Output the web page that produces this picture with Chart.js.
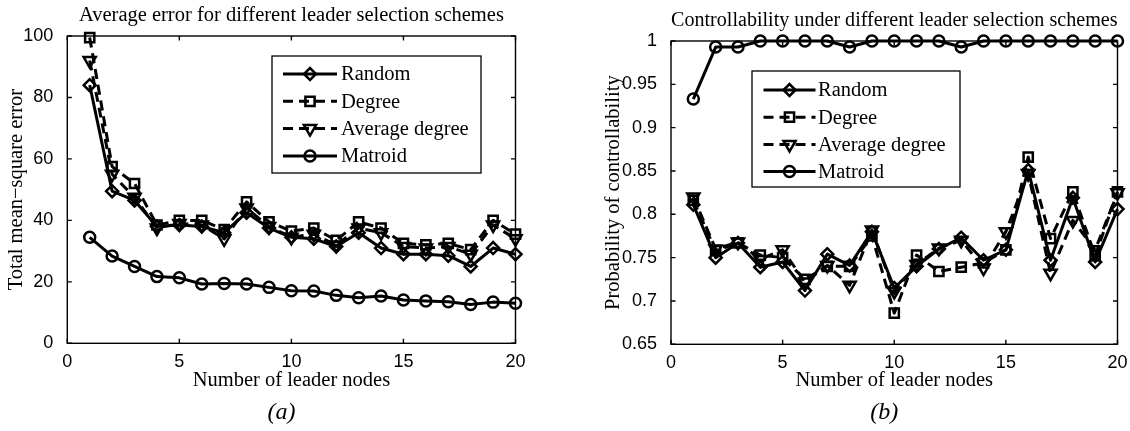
<!DOCTYPE html>
<html>
<head>
<meta charset="utf-8">
<script src="https://cdn.jsdelivr.net/npm/chart.js@4.4.1/dist/chart.umd.min.js"></script>
<style>
    body { margin: 0; background: #fff; }
    #wrap { position: relative; width: 1130px; height: 431px; }
    canvas { position: absolute; top: 0; }
</style>
</head>
<body>
<div id="wrap">
    <canvas id="errChart" width="565" height="431" style="left:0"></canvas>
    <canvas id="ctrlChart" width="565" height="431" style="left:565px"></canvas>
</div>
<script>
const leaders = [1, 2, 3, 4, 5, 6, 7, 8, 9, 10, 11, 12, 13, 14, 15, 16, 17, 18, 19, 20];
const seriesNames = ['Random', 'Degree', 'Average degree', 'Matroid'];

// (a) total mean-square error
const errRandom = [84, 49.5, 46.5, 38, 38.5, 38, 36, 42.5, 37.5, 34.5, 34, 31.5, 36, 31, 29, 29, 28.5, 25, 31, 29];
const errDegree = [99.5, 57.5, 52, 38.5, 40, 40, 37, 46, 39.5, 36.5, 37.5, 33.5, 39.5, 37.5, 32.5, 32, 32.5, 30.5, 40, 35.5];
const errAvgDegree = [92, 55, 47.5, 37.5, 39, 38.5, 34, 44, 38, 34.5, 35.5, 32, 37.5, 36, 31.5, 31, 31.5, 29, 38.5, 34];
const errMatroid = [34.5, 28.4, 25, 21.7, 21.3, 19.3, 19.5, 19.3, 18.2, 17.1, 17, 15.6, 14.8, 15.4, 14.1, 13.8, 13.5, 12.6, 13.4, 13];

// (b) probability of controllability
const ctrlRandom = [0.811, 0.750, 0.767, 0.739, 0.745, 0.712, 0.754, 0.741, 0.780, 0.715, 0.740, 0.760, 0.773, 0.747, 0.759, 0.851, 0.747, 0.819, 0.745, 0.806];
const ctrlDegree = [0.816, 0.758, 0.767, 0.753, 0.750, 0.725, 0.740, 0.740, 0.775, 0.686, 0.753, 0.734, 0.739, 0.744, 0.759, 0.866, 0.772, 0.826, 0.752, 0.826];
const ctrlAvgDegree = [0.820, 0.760, 0.768, 0.748, 0.759, 0.722, 0.741, 0.718, 0.782, 0.711, 0.742, 0.761, 0.770, 0.738, 0.780, 0.847, 0.732, 0.793, 0.759, 0.825];
const ctrlMatroid = [0.933, 0.993, 0.993, 1, 1, 1, 1, 0.993, 1, 1, 1, 1, 0.993, 1, 1, 1, 1, 1, 1, 1];

const xTicks = [0, 5, 10, 15, 20];
const errTicks = [0, 20, 40, 60, 80, 100];
const ctrlTicks = [0.65, 0.7, 0.75, 0.8, 0.85, 0.9, 0.95, 1];

const styles = [
    { pointStyle: 'rectRot', radius: 6, rotation: 0, dash: [] },
    { pointStyle: 'rect', radius: 6.5, rotation: 0, dash: [10, 6] },
    { pointStyle: 'triangle', radius: 7, rotation: 180, dash: [10, 6] },
    { pointStyle: 'circle', radius: 5.5, rotation: 0, dash: [] },
];

const serif = 'Liberation Serif, Times New Roman, serif';
const sans = 'Liberation Sans, Arial, sans-serif';

function makeDatasets(series) {
    return series.map((vals, i) => ({
        label: seriesNames[i],
        data: leaders.map((x, k) => ({ x: x, y: vals[k] })),
        borderColor: '#000',
        borderWidth: 3,
        borderDash: styles[i].dash,
        borderJoinStyle: 'round',
        pointStyle: styles[i].pointStyle,
        pointRadius: styles[i].radius,
        pointRotation: styles[i].rotation,
        pointBorderWidth: 2.5,
        pointBorderColor: '#000',
        pointBackgroundColor: 'rgba(0,0,0,0)',
        tension: 0,
        clip: false,
    }));
}

function drawMarker(ctx, style, r, rot, x, y) {
    ctx.beginPath();
    if (style === 'circle') {
        ctx.arc(x, y, r, 0, Math.PI * 2);
    } else if (style === 'rect') {
        const s = r * Math.SQRT1_2;
        ctx.rect(x - s, y - s, 2 * s, 2 * s);
    } else if (style === 'rectRot') {
        ctx.moveTo(x - r, y);
        ctx.lineTo(x, y - r);
        ctx.lineTo(x + r, y);
        ctx.lineTo(x, y + r);
        ctx.closePath();
    } else {
        let a = rot * Math.PI / 180;
        ctx.moveTo(x + Math.sin(a) * r, y - Math.cos(a) * r);
        a += 2 * Math.PI / 3;
        ctx.lineTo(x + Math.sin(a) * r, y - Math.cos(a) * r);
        a += 2 * Math.PI / 3;
        ctx.lineTo(x + Math.sin(a) * r, y - Math.cos(a) * r);
        ctx.closePath();
    }
    ctx.stroke();
}

const frame = {
    id: 'frame',
    beforeDatasetsDraw(chart) {
        const { ctx, chartArea: a, scales: { x, y } } = chart;
        ctx.save();
        ctx.strokeStyle = '#000';
        ctx.lineWidth = 1.4;
        ctx.strokeRect(a.left, a.top, a.right - a.left, a.bottom - a.top);
        ctx.beginPath();
        x.ticks.forEach(t => {
            const px = x.getPixelForValue(t.value);
            ctx.moveTo(px, a.bottom); ctx.lineTo(px, a.bottom - 4.5);
            ctx.moveTo(px, a.top); ctx.lineTo(px, a.top + 4.5);
        });
        y.ticks.forEach(t => {
            const py = y.getPixelForValue(t.value);
            ctx.moveTo(a.left, py); ctx.lineTo(a.left + 4.5, py);
            ctx.moveTo(a.right, py); ctx.lineTo(a.right - 4.5, py);
        });
        ctx.stroke();
        ctx.restore();
    },
    afterDraw(chart, args, opts) {
        const { ctx, chartArea: a } = chart;
        const lg = opts.legend;
        ctx.save();
        ctx.fillStyle = '#fff';
        ctx.fillRect(lg.x, lg.y, lg.w, lg.h);
        ctx.strokeStyle = '#000';
        ctx.lineWidth = 1.3;
        ctx.strokeRect(lg.x, lg.y, lg.w, lg.h);

        chart.data.datasets.forEach((ds, i) => {
            const ry = lg.row0 + i * lg.step;
            ctx.lineWidth = ds.borderWidth;
            ctx.setLineDash(ds.borderDash);
            ctx.beginPath();
            ctx.moveTo(lg.line0, ry);
            ctx.lineTo(lg.line1, ry);
            ctx.stroke();
            ctx.setLineDash([]);
            ctx.lineWidth = ds.pointBorderWidth;
            drawMarker(ctx, ds.pointStyle, ds.pointRadius, ds.pointRotation, (lg.line0 + lg.line1) / 2, ry);
            ctx.fillStyle = '#000';
            ctx.font = '20.5px ' + serif;
            ctx.textAlign = 'left';
            ctx.textBaseline = 'middle';
            ctx.fillText(ds.label, lg.textX, ry + 1);
        });

        ctx.font = 'italic 24px ' + serif;
        ctx.textAlign = 'center';
        ctx.textBaseline = 'middle';
        ctx.fillStyle = '#000';
        ctx.fillText(opts.caption, (a.left + a.right) / 2 - 10, 413);
        ctx.restore();
    }
};

function makeChart(canvasId, o) {
    return new Chart(document.getElementById(canvasId), {
        type: 'line',
        data: { datasets: makeDatasets(o.series) },
        plugins: [frame],
        options: {
            responsive: false,
            animation: false,
            devicePixelRatio: 1,
            events: [],
            layout: { padding: { left: 0, right: o.padRight, top: 0, bottom: 0 } },
            scales: {
                x: {
                    type: 'linear', min: 0, max: 20,
                    afterBuildTicks: s => { s.ticks = xTicks.map(v => ({ value: v })); },
                    afterFit: s => { s.height = o.xHeight; },
                    grid: { display: false },
                    border: { display: false },
                    ticks: { color: '#000', font: { family: sans, size: 18, lineHeight: 1 }, padding: 2, maxRotation: 0, callback: v => String(v) },
                    title: { display: true, text: 'Number of leader nodes', color: '#000', font: { family: serif, size: 20.5 }, padding: { top: 0, bottom: 38 } },
                },
                y: {
                    type: 'linear', min: o.yTicks[0], max: o.yTicks[o.yTicks.length - 1],
                    afterBuildTicks: s => { s.ticks = o.yTicks.map(v => ({ value: v })); },
                    afterFit: s => { s.width = o.yWidth; },
                    grid: { display: false },
                    border: { display: false },
                    ticks: { color: '#000', font: { family: sans, size: 18 }, padding: 6, callback: v => String(+v.toFixed(2)) },
                    title: { display: true, text: o.yLabel, color: '#000', font: { family: serif, size: 20.5 }, padding: { top: o.yTitlePad, bottom: 0 } },
                },
            },
            plugins: {
                legend: { display: false },
                tooltip: { enabled: false },
                title: {
                    display: true, text: o.title, fullSize: false, color: '#000',
                    font: { family: serif, size: 20.5, weight: 'normal' },
                    padding: { top: o.titleTop, bottom: 8 },
                },
                frame: { legend: o.legend, caption: o.caption },
            },
        },
    });
}

makeChart('errChart', {
    series: [errRandom, errDegree, errAvgDegree, errMatroid],
    yTicks: errTicks,
    yLabel: 'Total mean\u2212square error',
    title: 'Average error for different leader selection schemes',
    caption: '(a)',
    padRight: 49.5, xHeight: 87.7, yWidth: 67.3, yTitlePad: 4, titleTop: 3.4,
    legend: { x: 272, y: 56, w: 209, h: 117, row0: 74, step: 27.3, line0: 283, line1: 337, textX: 341 },
});

makeChart('ctrlChart', {
    series: [ctrlRandom, ctrlDegree, ctrlAvgDegree, ctrlMatroid],
    yTicks: ctrlTicks,
    yLabel: 'Probability of controllability',
    title: 'Controllability under different leader selection schemes',
    caption: '(b)',
    padRight: 12.5, xHeight: 86.7, yWidth: 106, yTitlePad: 36, titleTop: 8.4,
    legend: { x: 187, y: 71, w: 208, h: 116, row0: 90, step: 27.2, line0: 198.5, line1: 250.5, textX: 253 },
});
</script>
</body>
</html>
